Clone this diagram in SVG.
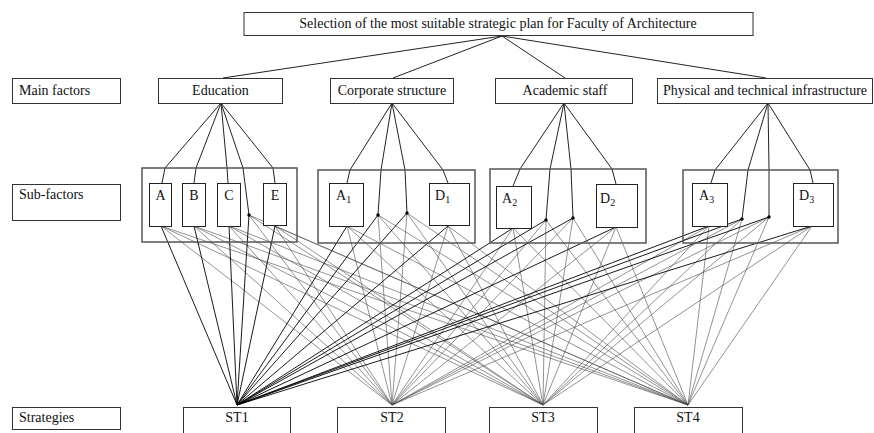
<svg xmlns="http://www.w3.org/2000/svg" width="874" height="433" viewBox="0 0 874 433">
<style>
text{font-family:"Liberation Serif","Times New Roman",serif;font-size:14px;fill:#111}
.box{fill:#fff;stroke:#333;stroke-width:1}
.grp{fill:none;stroke:#555;stroke-width:1.5}
.sub{fill:#fff;stroke:#222;stroke-width:1}
.c{fill:none;stroke:#222;stroke-width:1}
.s1{stroke:#000;stroke-width:0.9}
.s{stroke:#4a4a4a;stroke-width:0.6}
.m{text-anchor:middle}
.sb{font-size:10px}
</style>
<rect width="874" height="433" fill="#fff"/>
<g id="connectors">
<g class="c">
<path d="M502 36L223 78M502 36L393 78M502 36L565 78M502 36L766 78"/>
<path d="M221 103L165 168L162 183M221 103L196 168L194 183M221 103L227 168L228 183M221 103L243 168L249 215M221 103L273 168L275 183"/>
<path d="M392 103L350 170L347 183M392 103L381 170L378 215M392 103L405 170L407 213M392 103L443 170L448 183"/>
<path d="M564 103L520 169L513 186M564 103L550 169L546 220M564 103L571 169L573 218M564 103L612 169L616 184"/>
<path d="M768 103L715 170L711 183M768 103L748 170L742 219M768 103L769 170L769 217M768 103L810 170L813 183"/>
</g>
<g class="s">
<line x1="161" y1="226" x2="392" y2="405"/><line x1="161" y1="226" x2="543" y2="405"/><line x1="161" y1="226" x2="688" y2="405"/>
<line x1="194" y1="226" x2="392" y2="405"/><line x1="194" y1="226" x2="543" y2="405"/><line x1="194" y1="226" x2="688" y2="405"/>
<line x1="229" y1="226" x2="392" y2="405"/><line x1="229" y1="226" x2="543" y2="405"/><line x1="229" y1="226" x2="688" y2="405"/>
<line x1="249" y1="215" x2="392" y2="405"/><line x1="249" y1="215" x2="543" y2="405"/><line x1="249" y1="215" x2="688" y2="405"/>
<line x1="275" y1="226" x2="392" y2="405"/><line x1="275" y1="226" x2="543" y2="405"/><line x1="275" y1="226" x2="688" y2="405"/>
<line x1="347" y1="226" x2="392" y2="405"/><line x1="347" y1="226" x2="543" y2="405"/><line x1="347" y1="226" x2="688" y2="405"/>
<line x1="378" y1="215" x2="392" y2="405"/><line x1="378" y1="215" x2="543" y2="405"/><line x1="378" y1="215" x2="688" y2="405"/>
<line x1="407" y1="213" x2="392" y2="405"/><line x1="407" y1="213" x2="543" y2="405"/><line x1="407" y1="213" x2="688" y2="405"/>
<line x1="448" y1="226" x2="392" y2="405"/><line x1="448" y1="226" x2="543" y2="405"/><line x1="448" y1="226" x2="688" y2="405"/>
<line x1="513" y1="228" x2="392" y2="405"/><line x1="513" y1="228" x2="543" y2="405"/><line x1="513" y1="228" x2="688" y2="405"/>
<line x1="546" y1="220" x2="392" y2="405"/><line x1="546" y1="220" x2="543" y2="405"/><line x1="546" y1="220" x2="688" y2="405"/>
<line x1="573" y1="218" x2="392" y2="405"/><line x1="573" y1="218" x2="543" y2="405"/><line x1="573" y1="218" x2="688" y2="405"/>
<line x1="616" y1="227" x2="392" y2="405"/><line x1="616" y1="227" x2="543" y2="405"/><line x1="616" y1="227" x2="688" y2="405"/>
<line x1="709" y1="226" x2="392" y2="405"/><line x1="709" y1="226" x2="543" y2="405"/><line x1="709" y1="226" x2="688" y2="405"/>
<line x1="742" y1="219" x2="392" y2="405"/><line x1="742" y1="219" x2="543" y2="405"/><line x1="742" y1="219" x2="688" y2="405"/>
<line x1="769" y1="217" x2="392" y2="405"/><line x1="769" y1="217" x2="543" y2="405"/><line x1="769" y1="217" x2="688" y2="405"/>
<line x1="812" y1="226" x2="392" y2="405"/><line x1="812" y1="226" x2="543" y2="405"/><line x1="812" y1="226" x2="688" y2="405"/>
</g>
<g class="s1">
<line x1="161" y1="226" x2="237" y2="405"/><line x1="194" y1="226" x2="237" y2="405"/><line x1="229" y1="226" x2="237" y2="405"/><line x1="249" y1="215" x2="237" y2="405"/><line x1="275" y1="226" x2="237" y2="405"/>
<line x1="347" y1="226" x2="237" y2="405"/><line x1="378" y1="215" x2="237" y2="405"/><line x1="407" y1="213" x2="237" y2="405"/><line x1="448" y1="226" x2="237" y2="405"/>
<line x1="513" y1="228" x2="237" y2="405"/><line x1="546" y1="220" x2="237" y2="405"/><line x1="573" y1="218" x2="237" y2="405"/><line x1="616" y1="227" x2="237" y2="405"/>
<line x1="709" y1="226" x2="237" y2="405"/><line x1="742" y1="219" x2="237" y2="405"/><line x1="769" y1="217" x2="237" y2="405"/><line x1="812" y1="226" x2="237" y2="405"/>
</g>
<g fill="#000">
<circle cx="249" cy="215" r="1.7"/><circle cx="378" cy="215" r="1.7"/><circle cx="407" cy="213" r="1.7"/>
<circle cx="546" cy="220" r="1.7"/><circle cx="573" cy="218" r="1.7"/><circle cx="742" cy="219" r="1.7"/><circle cx="769" cy="217" r="1.7"/>
</g>
</g>
<g id="goal"><rect class="box" x="244" y="12.5" width="509" height="23"/><text class="m" x="498" y="28">Selection of the most suitable strategic plan for Faculty of Architecture</text></g>
<g id="label-main"><rect class="box" x="12.5" y="78.5" width="108" height="25"/><text x="19" y="95">Main factors</text></g>
<g id="education"><rect class="box" x="158.5" y="78.5" width="124" height="25"/><text class="m" x="220.5" y="95">Education</text></g>
<g id="corporate"><rect class="box" x="330.5" y="78.5" width="123" height="25"/><text class="m" x="392" y="95">Corporate structure</text></g>
<g id="academic"><rect class="box" x="495.5" y="78.5" width="137" height="25"/><text class="m" x="565" y="95">Academic staff</text></g>
<g id="physical"><rect class="box" x="657.5" y="78.5" width="215" height="25"/><text class="m" x="765" y="95">Physical and technical infrastructure</text></g>
<g id="label-sub"><rect class="box" x="12.5" y="184.5" width="108" height="36"/><text x="19" y="199">Sub-factors</text></g>
<g id="grp-education"><rect class="grp" x="142" y="168" width="155" height="74"/></g>
<g id="sub-A"><rect class="sub" x="149.5" y="183.5" width="22" height="43"/><text class="m" x="160.5" y="200">A</text></g>
<g id="sub-B"><rect class="sub" x="182.5" y="183.5" width="23" height="43"/><text class="m" x="194" y="200">B</text></g>
<g id="sub-C"><rect class="sub" x="217.5" y="183.5" width="23" height="43"/><text class="m" x="229" y="200">C</text></g>
<g id="sub-E"><rect class="sub" x="263.5" y="183.5" width="23" height="42"/><text class="m" x="275" y="200">E</text></g>
<g id="grp-corporate"><rect class="grp" x="318" y="170" width="157" height="73"/></g>
<g id="sub-A1"><rect class="sub" x="329.5" y="183.5" width="34" height="43"/><text x="336" y="200">A<tspan class="sb" dy="3">1</tspan></text></g>
<g id="sub-D1"><rect class="sub" x="429.5" y="183.5" width="40" height="42"/><text x="435" y="200">D<tspan class="sb" dy="3">1</tspan></text></g>
<g id="grp-academic"><rect class="grp" x="490" y="169" width="156" height="74"/></g>
<g id="sub-A2"><rect class="sub" x="496.5" y="186.5" width="35" height="42"/><text x="502" y="203">A<tspan class="sb" dy="3">2</tspan></text></g>
<g id="sub-D2"><rect class="sub" x="596.5" y="184.5" width="41" height="43"/><text x="600" y="203">D<tspan class="sb" dy="3">2</tspan></text></g>
<g id="grp-physical"><rect class="grp" x="683" y="170" width="155" height="73"/></g>
<g id="sub-A3"><rect class="sub" x="692.5" y="183.5" width="35" height="43"/><text x="699" y="200">A<tspan class="sb" dy="3">3</tspan></text></g>
<g id="sub-D3"><rect class="sub" x="793.5" y="183.5" width="40" height="43"/><text x="799" y="200">D<tspan class="sb" dy="3">3</tspan></text></g>
<g id="label-strategies"><rect class="box" x="12.5" y="407.5" width="108" height="22"/><text x="19" y="422">Strategies</text></g>
<g id="ST1"><rect class="box" x="183.5" y="407.5" width="107" height="30"/><text class="m" x="237" y="422">ST1</text></g>
<g id="ST2"><rect class="box" x="337.5" y="407.5" width="108" height="30"/><text class="m" x="392" y="422">ST2</text></g>
<g id="ST3"><rect class="box" x="489.5" y="407.5" width="108" height="30"/><text class="m" x="543" y="422">ST3</text></g>
<g id="ST4"><rect class="box" x="634.5" y="407.5" width="108" height="30"/><text class="m" x="688" y="422">ST4</text></g>
</svg>
